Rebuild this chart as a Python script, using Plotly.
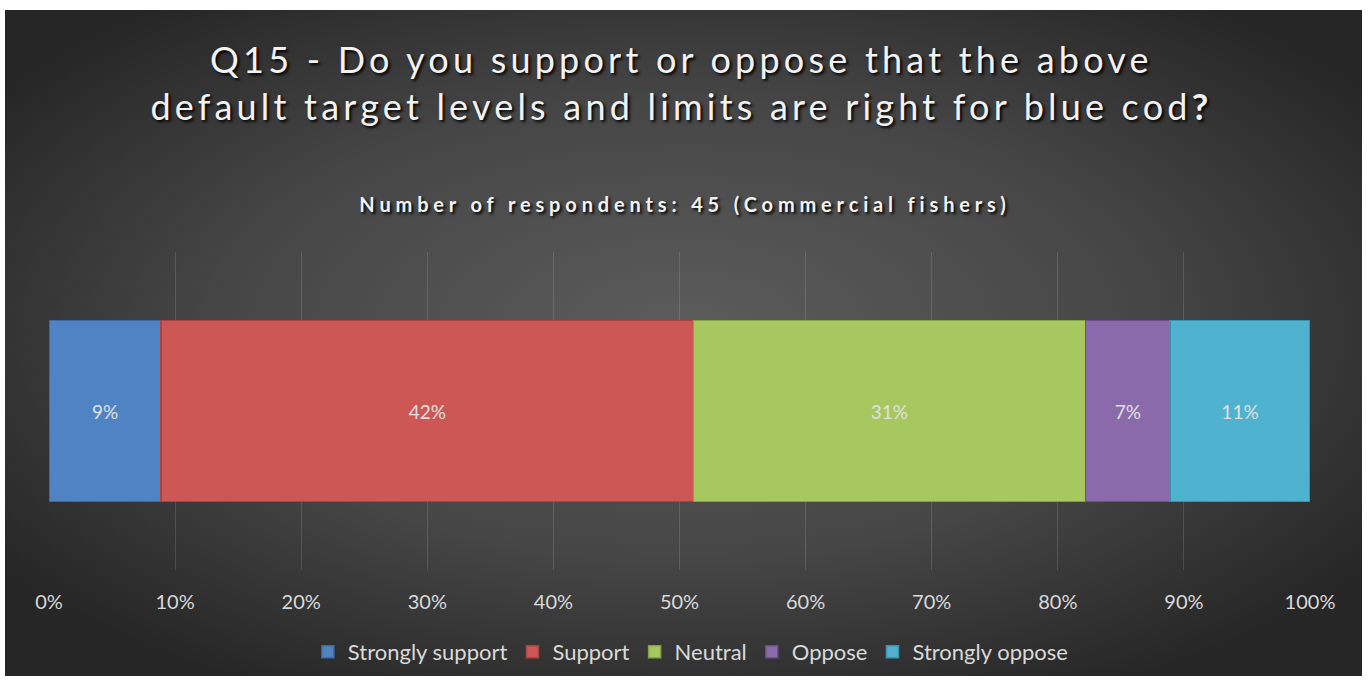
import base64
import plotly.graph_objects as go

categories = ["Strongly support", "Support", "Neutral", "Oppose", "Strongly oppose"]
percent = [8.9, 42.2, 31.1, 6.7, 11.1]
labels = ["9%", "42%", "31%", "7%", "11%"]
colors = ["#5083c4", "#cd5755", "#a7c75f", "#8a6aab", "#4fb2cf"]
line_colors = ["#3d6aa3", "#a84441", "#86a347", "#6b5089", "#3a93ad"]
tick_vals = [0, 10, 20, 30, 40, 50, 60, 70, 80, 90, 100]
tick_text = [f"{v}%" for v in tick_vals]

W, H = 1368, 683

svg = (
    '<svg xmlns="http://www.w3.org/2000/svg" width="1357" height="666" viewBox="0 0 1357 666" preserveAspectRatio="none">'
    '<defs><radialGradient id="g" cx="50%" cy="48%" r="62%" fx="50%" fy="48%">'
    '<stop offset="0%" stop-color="#5c5c5c"/>'
    '<stop offset="55%" stop-color="#464646"/>'
    '<stop offset="100%" stop-color="#262626"/>'
    '</radialGradient></defs>'
    '<rect x="0" y="0" width="1357" height="666" fill="url(#g)"/></svg>'
)
src = "data:image/svg+xml;base64," + base64.b64encode(svg.encode()).decode()

FONT = "Lato, Open Sans, sans-serif"

fig = go.Figure()
for cat, p, lab, c, lc in zip(categories, percent, labels, colors, line_colors):
    fig.add_trace(go.Bar(
        y=[""], x=[p], name=cat, orientation="h",
        marker=dict(color=c, line=dict(color=lc, width=1.5)),
        text=[lab], textposition="inside", insidetextanchor="middle",
        textfont=dict(family=FONT, size=19, color="#e0e0e0"),
        hoverinfo="name+x",
    ))

fig.update_layout(
    width=W, height=H, autosize=False,
    barmode="stack", bargap=0.43,
    paper_bgcolor="white", plot_bgcolor="rgba(0,0,0,0)",
    margin=dict(l=0, r=0, t=0, b=0, pad=0, autoexpand=False),
    showlegend=True,
    legend=dict(orientation="h", x=0.505, xanchor="center", y=1 - 652 / H, yanchor="middle",
                font=dict(family=FONT, size=22, color="#d9d9d9"), bgcolor="rgba(0,0,0,0)",
                itemwidth=30, tracegroupgap=0, traceorder="normal"),
    xaxis=dict(domain=[49 / W, 1310 / W], range=[0, 100], tickvals=tick_vals, ticktext=tick_text,
               showgrid=True, gridcolor="rgba(255,255,255,0.13)", gridwidth=1, zeroline=False,
               showline=False, ticks="", ticklabelstandoff=18, automargin=False,
               tickfont=dict(family=FONT, size=20, color="#d9d9d9"), fixedrange=True),
    yaxis=dict(domain=[1 - 570 / H, 1 - 252 / H], showticklabels=False, showgrid=False,
               zeroline=False, fixedrange=True, automargin=False),
    images=[dict(source=src, xref="paper", yref="paper", x=5 / W, y=1 - 10 / H,
                 sizex=1357 / W, sizey=666 / H, sizing="stretch", layer="below",
                 xanchor="left", yanchor="top")],
    annotations=[
        dict(text="Q15 - Do you support or oppose that the above<br>default target levels and limits are right for blue cod<b>?</b>",
             xref="paper", yref="paper", x=0.4985, y=1 - 83 / H, xanchor="center", yanchor="middle",
             showarrow=False, align="center",
             font=dict(family=FONT, size=36, color="#f2f2f2", shadow="2px 2px 3px #000000")),
        dict(text="<b>Number of respondents: 45 (Commercial fishers)</b>",
             xref="paper", yref="paper", x=0.501, y=1 - 204 / H, xanchor="center", yanchor="middle",
             showarrow=False,
             font=dict(family=FONT, size=20, color="#f2f2f2", shadow="2px 2px 3px #000000")),
    ],
)

post = """
document.body.style.margin='0';
document.body.style.overflow='hidden';
var st=document.createElement('style');
st.textContent='g.annotation[data-index="0"] text{letter-spacing:4.2px;} g.annotation[data-index="1"] text{letter-spacing:4.85px;}';
document.head.appendChild(st);
"""

fig.write_html("out.html", post_script=post, config={"displayModeBar": False, "responsive": False})
